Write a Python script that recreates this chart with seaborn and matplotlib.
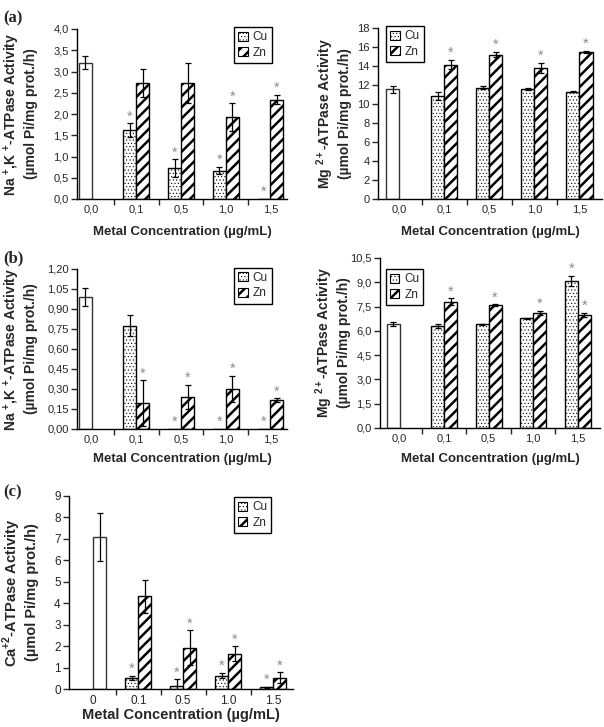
import numpy as np
import pandas as pd
import matplotlib.pyplot as plt
import matplotlib.ticker as mticker
from matplotlib.patches import Patch
import seaborn as sns

sns.set_style("ticks")
plt.rcParams["font.family"] = ["Liberation Sans", "DejaVu Sans"]
plt.rcParams["mathtext.fontset"] = "custom"
plt.rcParams["mathtext.rm"] = "Liberation Sans"
plt.rcParams["mathtext.bf"] = "Liberation Sans:bold"
plt.rcParams["hatch.linewidth"] = 1.8

CONC_AB = ["0,0", "0,1", "0,5", "1,0", "1,5"]
CONC_C = ["0", "0.1", "0.5", "1.0", "1.5"]

# (a) Na+,K+-ATPase
a_nak_ctrl, a_nak_ctrl_err = 3.21, 0.15
a_nak_cu = [1.62, 0.72, 0.67, 0.0]
a_nak_cu_err = [0.16, 0.21, 0.09, 0.0]
a_nak_cu_sig = [True, True, True, True]
a_nak_zn = [2.74, 2.73, 1.92, 2.34]
a_nak_zn_err = [0.33, 0.48, 0.33, 0.11]
a_nak_zn_sig = [False, False, True, True]

# (a) Mg2+-ATPase
a_mg_ctrl, a_mg_ctrl_err = 11.55, 0.35
a_mg_cu = [10.85, 11.7, 11.55, 11.3]
a_mg_cu_err = [0.45, 0.17, 0.1, 0.05]
a_mg_cu_sig = [False, False, False, False]
a_mg_zn = [14.15, 15.2, 13.8, 15.45]
a_mg_zn_err = [0.5, 0.27, 0.5, 0.13]
a_mg_zn_sig = [True, True, True, True]

# (b) Na+,K+-ATPase
b_nak_ctrl, b_nak_ctrl_err = 0.99, 0.07
b_nak_cu = [0.775, 0.0, 0.0, 0.0]
b_nak_cu_err = [0.08, 0.0, 0.0, 0.0]
b_nak_cu_sig = [False, True, True, True]
b_nak_zn = [0.195, 0.24, 0.30, 0.215]
b_nak_zn_err = [0.17, 0.09, 0.10, 0.015]
b_nak_zn_sig = [True, True, True, True]

# (b) Mg2+-ATPase
b_mg_ctrl, b_mg_ctrl_err = 6.4, 0.12
b_mg_cu = [6.3, 6.42, 6.78, 9.1]
b_mg_cu_err = [0.1, 0.03, 0.03, 0.3]
b_mg_cu_sig = [False, False, False, True]
b_mg_zn = [7.8, 7.58, 7.1, 6.98]
b_mg_zn_err = [0.2, 0.05, 0.12, 0.12]
b_mg_zn_sig = [True, True, True, True]

# (c) Ca2+-ATPase
c_ca_ctrl, c_ca_ctrl_err = 7.1, 1.13
c_ca_cu = [0.52, 0.15, 0.62, 0.08]
c_ca_cu_err = [0.1, 0.3, 0.12, 0.03]
c_ca_cu_sig = [True, True, True, True]
c_ca_zn = [4.32, 1.92, 1.65, 0.52]
c_ca_zn_err = [0.77, 0.82, 0.34, 0.25]
c_ca_zn_sig = [False, True, True, True]


def make_frame(labels, ctrl, ctrl_err, ctrl_slot, cu, cu_err, cu_sig, zn, zn_err, zn_sig):
    rows = [dict(conc=labels[0], metal=ctrl_slot, value=ctrl, err=ctrl_err, sig=False, control=True)]
    for i, lab in enumerate(labels[1:]):
        rows.append(dict(conc=lab, metal="Cu", value=cu[i], err=cu_err[i], sig=cu_sig[i], control=False))
        rows.append(dict(conc=lab, metal="Zn", value=zn[i], err=zn_err[i], sig=zn_sig[i], control=False))
    return pd.DataFrame(rows)


HATCH = {"Cu": ".....", "Zn": "///"}
HATCH_LW = {"Cu": 0.4, "Zn": 1.8}
HATCH_COLOR = {"Cu": "#555555", "Zn": "black"}


def style_patch(p, metal):
    p.set_facecolor("white")
    p.set_edgecolor("black")
    p.set_hatch(HATCH[metal])
    if hasattr(p, "set_hatchcolor"):
        p.set_hatchcolor(HATCH_COLOR[metal])
    if hasattr(p, "set_hatch_linewidth"):
        p.set_hatch_linewidth(HATCH_LW[metal])


def draw_panel(ax, df, labels, ymax, ystep, yfmt, ylabel, xlim, ylab_x, xlab_y,
               leg_loc, leg_anchor, fs_lab=9.5, fs_ylab=10, fs_tick=8):
    sns.barplot(data=df, x="conc", y="value", hue="metal", hue_order=["Cu", "Zn"],
                order=labels, width=0.58, errorbar=None, legend=False, ax=ax)

    for p in ax.patches:
        cx = p.get_x() + p.get_width() / 2
        i = int(round(cx))
        metal = "Cu" if cx < i else "Zn"
        row = df[(df.conc == labels[i]) & (df.metal == metal)]
        if row.empty:
            continue
        row = row.iloc[0]
        if row.control:
            p.set_facecolor("white")
            p.set_edgecolor("#333333")
            p.set_hatch(None)
        else:
            style_patch(p, metal)
        p.set_linewidth(1.0)
        top = row.value + row.err
        if row.err > 0:
            ax.errorbar(cx, row.value, yerr=row.err, fmt="none", ecolor="black",
                        elinewidth=0.9, capsize=2.5, capthick=0.9, zorder=5)
        if row.sig:
            ax.annotate("*", (cx, top), xytext=(0, 5), textcoords="offset points",
                        ha="center", va="center", color="#8c8c8c", fontsize=10.5)

    ax.set_xlim(*xlim)
    ax.set_ylim(0, ymax)
    ax.yaxis.set_major_locator(mticker.MultipleLocator(ystep))
    ax.yaxis.set_major_formatter(mticker.FuncFormatter(yfmt))
    ax.xaxis.set_minor_locator(mticker.FixedLocator([0.5, 1.5, 2.5, 3.5]))
    ax.tick_params(axis="x", which="major", length=0, pad=4, labelsize=fs_tick)
    ax.tick_params(axis="x", which="minor", length=4, width=1, direction="out")
    ax.tick_params(axis="y", length=4, width=1, direction="out", pad=2, labelsize=fs_tick)
    sns.despine(ax=ax)
    for s in ("left", "bottom"):
        ax.spines[s].set_linewidth(1.0)
        ax.spines[s].set_color("black")

    ax.set_ylabel(ylabel, fontsize=fs_ylab, fontweight="bold", va="bottom")
    ax.yaxis.set_label_coords(ylab_x, 0.5)
    ax.set_xlabel("Metal Concentration (µg/mL)", fontsize=fs_lab, fontweight="bold", va="top")
    ax.xaxis.set_label_coords(0.5, xlab_y)

    handles = []
    for m in ("Cu", "Zn"):
        h = Patch(facecolor="white", edgecolor="black", hatch=HATCH[m], label=m)
        handles.append(h)
    leg = ax.legend(handles=handles, loc=leg_loc, bbox_to_anchor=leg_anchor, frameon=True,
                    fancybox=False, edgecolor="black", framealpha=1, handlelength=0.8,
                    handleheight=0.8, handletextpad=0.4, borderpad=0.35, labelspacing=0.3,
                    fontsize=8.5)
    leg.get_frame().set_linewidth(1.0)
    for h, m in zip(leg.get_patches(), ("Cu", "Zn")):
        style_patch(h, m)
        h.set_linewidth(0.8)


def comma(fmt):
    return lambda v, pos: (fmt % v).replace(".", ",")


W, H = 604, 727
fig = plt.figure(figsize=(W / 100, H / 100), dpi=100)


def box(l, r, t, b):
    return [l / W, 1 - b / H, (r - l) / W, (b - t) / H]


ax_a1 = fig.add_axes(box(77, 287, 29, 199))
ax_a2 = fig.add_axes(box(378, 602, 28, 199))
ax_b1 = fig.add_axes(box(77, 287, 269, 429))
ax_b2 = fig.add_axes(box(380, 600, 258, 428))
ax_c = fig.add_axes(box(69, 293, 496, 689))

nak_label = "Na $^{\\mathbf{+}}$,K $^{\\mathbf{+}}$-ATPase Activity\n(µmol Pi/mg prot./h)"
mg_label = "Mg $^{\\mathbf{2+}}$-ATPase Activity\n(µmol Pi/mg prot./h)"
ca_label = "Ca$^{\\mathbf{+2}}$-ATPase Activity\n(µmol Pi/mg prot./h)"

draw_panel(ax_a1, make_frame(CONC_AB, a_nak_ctrl, a_nak_ctrl_err, "Cu", a_nak_cu, a_nak_cu_err,
                             a_nak_cu_sig, a_nak_zn, a_nak_zn_err, a_nak_zn_sig),
           CONC_AB, 4.0, 0.5, comma("%.1f"), nak_label, (-0.33, 4.37), -0.185, -0.16,
           "upper right", (0.955, 1.045))
draw_panel(ax_a2, make_frame(CONC_AB, a_mg_ctrl, a_mg_ctrl_err, "Cu", a_mg_cu, a_mg_cu_err,
                             a_mg_cu_sig, a_mg_zn, a_mg_zn_err, a_mg_zn_sig),
           CONC_AB, 18, 2, lambda v, pos: "%d" % v, mg_label, (-0.47, 4.5), -0.115, -0.16,
           "upper left", (0.01, 1.045))
draw_panel(ax_b1, make_frame(CONC_AB, b_nak_ctrl, b_nak_ctrl_err, "Cu", b_nak_cu, b_nak_cu_err,
                             b_nak_cu_sig, b_nak_zn, b_nak_zn_err, b_nak_zn_sig),
           CONC_AB, 1.2, 0.15, comma("%.2f"), nak_label, (-0.33, 4.37), -0.185, -0.15,
           "upper right", (0.955, 1.045))
draw_panel(ax_b2, make_frame(CONC_AB, b_mg_ctrl, b_mg_ctrl_err, "Cu", b_mg_cu, b_mg_cu_err,
                             b_mg_cu_sig, b_mg_zn, b_mg_zn_err, b_mg_zn_sig),
           CONC_AB, 10.5, 1.5, comma("%.1f"), mg_label, (-0.44, 4.5), -0.13, -0.15,
           "upper left", (0.0, 0.97))
draw_panel(ax_c, make_frame(CONC_C, c_ca_ctrl, c_ca_ctrl_err, "Zn", c_ca_cu, c_ca_cu_err,
                            c_ca_cu_sig, c_ca_zn, c_ca_zn_err, c_ca_zn_sig),
           CONC_C, 9, 1, lambda v, pos: "%d" % v, ca_label, (-0.54, 4.44), -0.135, -0.1,
           "upper right", (0.93, 1.025), fs_lab=10.5, fs_ylab=10.5, fs_tick=8.5)

for txt, y in (("(a)", 18), ("(b)", 258), ("(c)", 492)):
    fig.text(3 / W, 1 - y / H, txt, family="Liberation Serif", fontweight="bold",
             fontsize=12, va="center", ha="left")

fig.savefig("out.png", dpi=100)
